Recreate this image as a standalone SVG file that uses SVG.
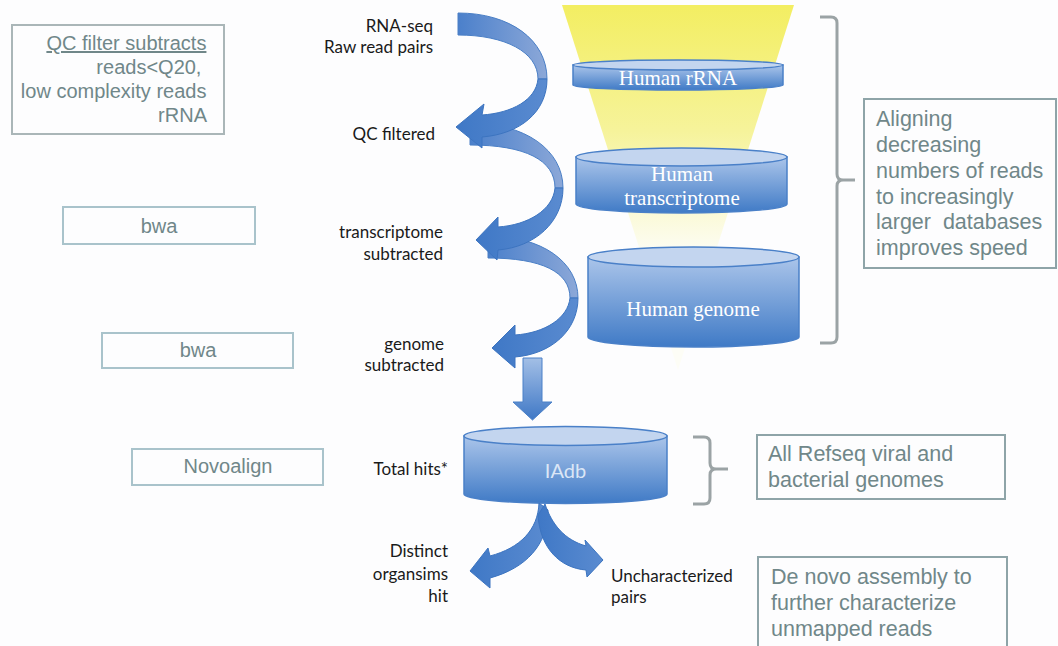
<svg xmlns="http://www.w3.org/2000/svg" width="1058" height="646" viewBox="0 0 1058 646">
<defs>
<style>
.lbl{font-family:Lato,"Liberation Sans",sans-serif;font-size:17px;fill:#1a1a1a;text-anchor:end}
.lbls{font-family:Lato,"Liberation Sans",sans-serif;font-size:17px;fill:#1a1a1a}
.gbox{fill:none;stroke:#a9c3cb;stroke-width:2}
.rbox{fill:none;stroke:#8ea4a8;stroke-width:2}
.gtxt{font-family:"Liberation Sans",Arial,sans-serif;font-size:20px;fill:#708789}
.rtxt{font-family:"Liberation Sans",Arial,sans-serif;font-size:21.5px;fill:#708789}
.cyl{fill:url(#cylBody);stroke:#4a80c8;stroke-width:1.5}
.cylTop{fill:#c3d5ef;stroke:#4a80c8;stroke-width:1.5}
.ctxt{font-family:"Liberation Serif","Times New Roman",serif;font-size:21px;fill:#ffffff;text-anchor:middle}
.brk{fill:none;stroke:#9ba3a5;stroke-width:3}
.back{fill:url(#backBand);stroke:#4a7fc6;stroke-width:1}
.front{fill:url(#frontBand);stroke:#3c74c0;stroke-width:1}
</style>
<linearGradient id="cylBody" x1="0" y1="0" x2="0" y2="1">
<stop offset="0" stop-color="#abc5ea"/>
<stop offset="1" stop-color="#3f7ac6"/>
</linearGradient>
<linearGradient id="funnel" gradientUnits="userSpaceOnUse" x1="0" y1="5" x2="0" y2="255">
<stop offset="0" stop-color="#f3ee62"/>
<stop offset="0.5" stop-color="#f6f39a"/>
<stop offset="1" stop-color="#fdfdf6"/>
</linearGradient>
<linearGradient id="backBand" x1="0" y1="0" x2="1" y2="0">
<stop offset="0" stop-color="#4b80cb"/>
<stop offset="1" stop-color="#8ca8d8"/>
</linearGradient>
<linearGradient id="frontBand" x1="0" y1="0" x2="1" y2="0">
<stop offset="0" stop-color="#3f78c6"/>
<stop offset="1" stop-color="#5a8bd0"/>
</linearGradient>
<linearGradient id="downArr" x1="0" y1="0" x2="0" y2="1">
<stop offset="0" stop-color="#a3bfe6"/>
<stop offset="1" stop-color="#3f78c6"/>
</linearGradient>
</defs>
<rect x="0" y="0" width="1058" height="646" fill="#fdfdfe"/>

<g id="funnel-bg">
<polygon points="562,5 794,5 678,370" fill="url(#funnel)"/>
</g>

<g id="qc-box">
<rect class="gbox" x="12" y="25" width="212" height="109" style="stroke:#aab6b8"/>
<text class="gtxt" text-anchor="end">
<tspan x="212" y="50" text-decoration="underline">QC filter subtracts</tspan>
<tspan x="207" y="74">reads&lt;Q20,</tspan>
<tspan x="212" y="98">low complexity reads</tspan>
<tspan x="207" y="122">rRNA</tspan>
</text>
</g>
<g id="bwa1">
<rect class="gbox" x="63" y="207" width="192" height="37"/>
<text class="gtxt" x="159" y="233" text-anchor="middle">bwa</text>
</g>
<g id="bwa2">
<rect class="gbox" x="102" y="333" width="191" height="35"/>
<text class="gtxt" x="198" y="357" text-anchor="middle">bwa</text>
</g>
<g id="novoalign">
<rect class="gbox" x="132" y="449" width="191" height="36"/>
<text class="gtxt" x="228" y="473" text-anchor="middle">Novoalign</text>
</g>

<g id="labels">
<text class="lbl"><tspan x="433" y="32">RNA-seq</tspan><tspan x="433" y="53">Raw read pairs</tspan></text>
<text class="lbl" x="435" y="140">QC filtered</text>
<text class="lbl"><tspan x="443" y="238">transcriptome</tspan><tspan x="443" y="260">subtracted</tspan></text>
<text class="lbl"><tspan x="444" y="350">genome</tspan><tspan x="444" y="371">subtracted</tspan></text>
<text class="lbl" x="448" y="475">Total hits*</text>
<text class="lbl"><tspan x="448" y="557">Distinct</tspan><tspan x="448" y="580">organsims</tspan><tspan x="448" y="602">hit</tspan></text>
<text class="lbls"><tspan x="611" y="582">Uncharacterized</tspan><tspan x="611" y="603">pairs</tspan></text>
</g>

<g id="human-rrna">
<path class="cyl" d="M573,65 L573,85 A105,5 0 0 0 783,85 L783,65 Z"/>
<ellipse class="cylTop" cx="678" cy="65" rx="105" ry="5"/>
<text class="ctxt" x="678" y="85">Human rRNA</text>
</g>
<g id="human-transcriptome">
<path class="cyl" d="M576,157 L576,204 A105.5,9 0 0 0 787,204 L787,157 Z"/>
<ellipse class="cylTop" cx="681.5" cy="157" rx="105.5" ry="9"/>
<text class="ctxt" x="682" y="181">Human</text>
<text class="ctxt" x="682" y="205">transcriptome</text>
</g>
<g id="human-genome">
<path class="cyl" d="M588,257 L588,337 A105.5,10 0 0 0 799,337 L799,257 Z"/>
<ellipse class="cylTop" cx="693.5" cy="257" rx="105.5" ry="10"/>
<text class="ctxt" x="693" y="316">Human genome</text>
</g>
<g id="iadb">
<path class="cyl" d="M464,436 L464,494 A101.5,9.5 0 0 0 667,494 L667,436 Z"/>
<ellipse class="cylTop" cx="565.5" cy="436" rx="101.5" ry="9.5"/>
<text x="565.5" y="478" text-anchor="middle" style="font-family:Lato,'Liberation Sans',sans-serif;font-size:20px;fill:#dbe6f6">IAdb</text>
</g>

<g id="bracket-top">
<path class="brk" d="M820,17 L831,17 Q837,17 837,23 L837,174 Q837,180 843,180 L855,180 M843,180 Q837,180 837,186 L837,337 Q837,343 831,343 L820,343"/>
</g>
<g id="bracket-iadb">
<path class="brk" d="M693,437 L704,437 Q710,437 710,443 L710,463 Q710,469 716,469 L728,469 M716,469 Q710,469 710,475 L710,498 Q710,504 704,504 L693,504"/>
</g>

<g id="note-aligning">
<rect class="rbox" x="864" y="99" width="192" height="169"/>
<text class="rtxt">
<tspan x="876" y="126">Aligning</tspan>
<tspan x="876" y="152">decreasing</tspan>
<tspan x="876" y="178">numbers of reads</tspan>
<tspan x="876" y="204">to increasingly</tspan>
<tspan x="876" y="229" xml:space="preserve">larger  databases</tspan>
<tspan x="876" y="255">improves speed</tspan>
</text>
</g>
<g id="note-refseq">
<rect class="rbox" x="757" y="435" width="248" height="64"/>
<text class="rtxt"><tspan x="768" y="461">All Refseq viral and</tspan><tspan x="768" y="487">bacterial genomes</tspan></text>
</g>
<g id="note-denovo">
<rect class="rbox" x="758" y="557" width="249" height="100"/>
<text class="rtxt"><tspan x="771" y="584">De novo assembly to</tspan><tspan x="771" y="610">further characterize</tspan><tspan x="771" y="636">unmapped reads</tspan></text>
</g>

<g id="connectors">
<!-- arrow 3 -->
<path class="back" d="M488,236 C542,236 578,262 578,298 L570,298 C570,272 542,258 488,258 Z"/>
<path class="front" d="M578,298 C578,330 552,354 515,357 L515,368 L492,348 L515,325 L515,335 C545,333 568,318 570,298 Z"/>
<!-- arrow 2 -->
<path class="back" d="M470,123 C525,123 563,150 563,188 L555,188 C555,160 525,145 470,145 Z"/>
<path class="front" d="M563,188 C563,222 535,247 498,250 L497,260 L476,240 L498,217 L498,227 C528,225 553,210 555,188 Z"/>
<!-- arrow 1 -->
<path class="back" d="M458,13 C510,13 547,40 547,79 L538,79 C538,52 505,35 458,35 Z"/>
<path class="front" d="M547,79 C547,112 520,134 482,137 L482,148 L456,127 L484,104 L482,115 C512,113 536,100 538,79 Z"/>
<!-- straight down arrow -->
<path d="M523,358 L542,358 L542,402 L552,402 L532.5,420 L513,402 L523,402 Z" fill="url(#downArr)" stroke="#4a80c8" stroke-width="1"/>
<!-- split arrows -->
<path class="front" d="M539,503 C538,530 520,548 490,556 L488,548 L470,571 L490,588 L490,578 C526,568 548,545 548,510 Z"/>
<path class="front" d="M545,504 C552,525 565,540 586,546 L585,540 L603,560 L587,577 L586,570 C560,568 540,548 538,515 Z"/>
</g>
</svg>
